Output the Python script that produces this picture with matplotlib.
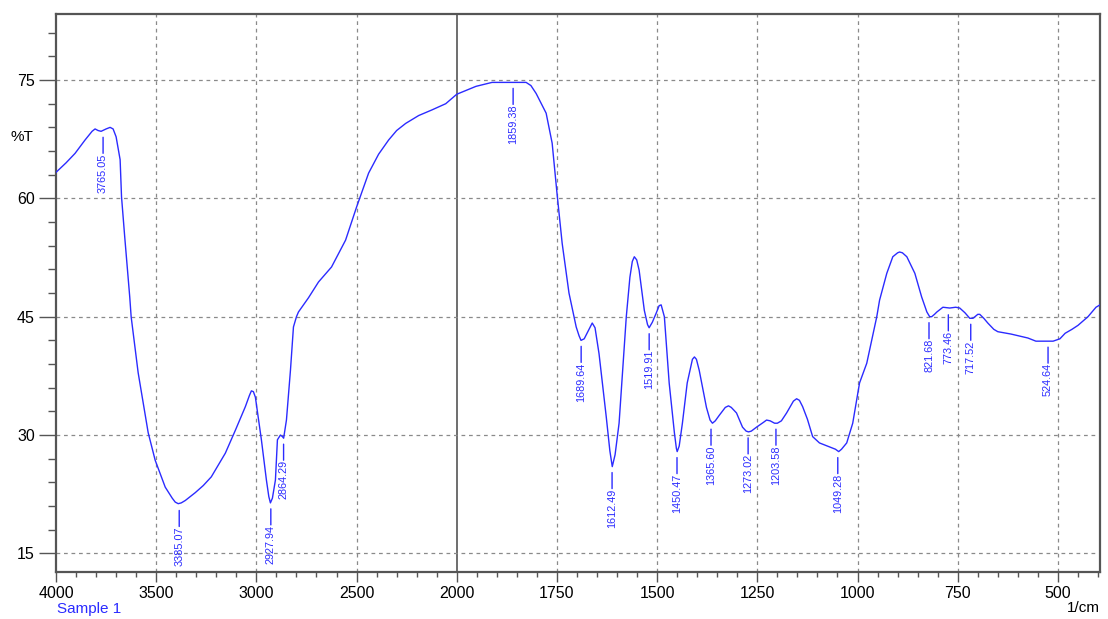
import numpy as np
import matplotlib
matplotlib.use("Agg")
import matplotlib.pyplot as plt
from matplotlib.ticker import FixedLocator, FixedFormatter

plt.rcParams['font.family'] = ['Liberation Sans', 'DejaVu Sans']

# ---- data (wavenumber 1/cm, %T) ----
wavenumber = [4000, 3950, 3905, 3855, 3820, 3805, 3790, 3775, 3750, 3730, 3715,
              3700, 3680, 3673, 3657, 3632, 3625, 3590, 3540, 3505, 3455, 3420,
              3405, 3390, 3375, 3355, 3305, 3265, 3225, 3155, 3105, 3055, 3035,
              3025, 3015, 3005, 2975, 2950, 2938, 2930, 2920, 2905, 2895, 2880,
              2870, 2864, 2850, 2830, 2815, 2800, 2790, 2740, 2690, 2625, 2555,
              2500, 2440, 2390, 2340, 2300, 2255, 2190, 2125, 2055, 2000, 1952,
              1912, 1860, 1827, 1815, 1802, 1777, 1762, 1750, 1737, 1720, 1702,
              1695, 1690, 1682, 1670, 1662, 1655, 1645, 1627, 1618, 1612, 1605,
              1595, 1577, 1568, 1562, 1557, 1551, 1545, 1532, 1524, 1520, 1512,
              1502, 1495, 1490, 1482, 1470, 1457, 1452, 1450, 1445, 1437, 1425,
              1412, 1407, 1402, 1395, 1377, 1368, 1362, 1355, 1345, 1330, 1322,
              1315, 1302, 1287, 1278, 1272, 1265, 1252, 1235, 1227, 1218, 1207,
              1200, 1190, 1177, 1160, 1152, 1145, 1137, 1125, 1112, 1095, 1070,
              1055, 1047, 1040, 1027, 1012, 995, 977, 952, 945, 927, 912, 900,
              895, 888, 877, 857, 840, 827, 820, 815, 808, 802, 787, 770, 755,
              745, 732, 720, 712, 707, 700, 695, 685, 675, 660, 650, 617, 575,
              555, 530, 512, 495, 482, 465, 450, 425, 405, 395]
transmittance = [63.3, 64.5, 65.7, 67.4, 68.5, 68.8, 68.6, 68.5, 68.8, 69.0, 68.8,
                 67.8, 64.9, 60.2, 55.1, 47.5, 45.0, 37.9, 30.3, 26.8, 23.4, 22.0,
                 21.5, 21.3, 21.4, 21.7, 22.7, 23.6, 24.7, 27.7, 30.6, 33.6, 35.0,
                 35.6, 35.5, 34.8, 29.4, 24.3, 22.2, 21.4, 22.0, 24.3, 29.4, 30.0,
                 29.8, 29.6, 31.9, 38.2, 43.7, 45.0, 45.6, 47.4, 49.4, 51.3, 54.7,
                 58.9, 63.2, 65.6, 67.4, 68.6, 69.5, 70.5, 71.2, 72.0, 73.2, 74.2,
                 74.7, 74.7, 74.7, 74.3, 73.3, 70.8, 67.0, 60.7, 54.3, 48.0, 43.7,
                 42.6, 42.0, 42.2, 43.4, 44.2, 43.6, 40.3, 32.3, 28.0, 26.0, 27.5,
                 31.5, 45.0, 50.0, 52.0, 52.6, 52.2, 50.9, 45.8, 44.0, 43.6, 44.3,
                 45.5, 46.4, 46.5, 45.0, 36.6, 30.3, 28.3, 27.9, 28.6, 31.5, 36.6,
                 39.6, 39.9, 39.6, 38.2, 33.5, 31.9, 31.5, 31.8, 32.5, 33.5, 33.7,
                 33.5, 32.8, 31.0, 30.5, 30.4, 30.5, 31.0, 31.6, 31.9, 31.8, 31.5,
                 31.5, 31.8, 32.8, 34.3, 34.6, 34.4, 33.6, 32.0, 29.8, 29.0, 28.5,
                 28.2, 27.9, 28.2, 29.0, 31.5, 36.6, 39.1, 45.0, 47.1, 50.5, 52.6,
                 53.1, 53.2, 53.1, 52.6, 50.5, 47.5, 45.6, 45.0, 45.0, 45.3, 45.6,
                 46.2, 46.1, 46.2, 46.1, 45.5, 44.8, 44.8, 45.0, 45.3, 45.3, 44.8,
                 44.2, 43.4, 43.1, 42.8, 42.3, 41.9, 41.9, 41.9, 42.2, 42.9, 43.4,
                 43.9, 45.0, 46.2, 46.5]

peak_wn = [3765.05, 3385.07, 2927.94, 2864.29, 1859.38, 1689.64, 1612.49,
           1519.91, 1450.47, 1365.60, 1273.02, 1203.58, 1049.28, 821.68,
           773.46, 717.52, 524.64]
peak_t = [68.5, 21.2, 21.4, 29.6, 74.7, 42.0, 26.0, 43.6, 27.9, 31.5, 30.4,
          31.5, 27.9, 45.0, 46.0, 44.8, 41.9]
peak_labels = ["3765.05", "3385.07", "2927.94", "2864.29", "1859.38", "1689.64",
               "1612.49", "1519.91", "1450.47", "1365.60", "1273.02", "1203.58",
               "1049.28", "821.68", "773.46", "717.52", "524.64"]

major_x = [4000, 3500, 3000, 2500, 2000, 1750, 1500, 1250, 1000, 750, 500]
y_ticks = [15, 30, 45, 60, 75]

BLUE = '#2b2bff'
DARK = '#555555'


def fwd(x):
    x = np.asarray(x, dtype=float)
    return np.where(x > 2000, 2000 + (x - 2000) / 2.0, x)


def inv(u):
    u = np.asarray(u, dtype=float)
    return np.where(u > 2000, 2000 + 2.0 * (u - 2000), u)


fig = plt.figure(figsize=(11.08, 6.19), dpi=100)
ax = fig.add_axes([56 / 1108, 1 - 572 / 619, (1100 - 56) / 1108, (572 - 14) / 619])
ax.set_xscale('function', functions=(fwd, inv))
ax.set_xlim(4000, 395)
ax.set_ylim(12.64, 83.37)

# grid
for xv in major_x:
    if xv == 2000:
        ax.axvline(xv, color=DARK, lw=1.2, zorder=1)
    elif xv != 4000:
        ax.axvline(xv, color='#8a8a8a', lw=0.9, ls=(0, (3, 3)), zorder=1)
for yv in y_ticks:
    ax.axhline(yv, color='#8a8a8a', lw=0.9, ls=(0, (3, 3)), zorder=1)

ax.plot(wavenumber, transmittance, color=BLUE, lw=1.0, zorder=3,
        solid_joinstyle='round', antialiased=True)

for wn, t, lab in zip(peak_wn, peak_t, peak_labels):
    ax.annotate(lab, xy=(wn, t), xytext=(0, -22), textcoords='offset pixels',
                rotation=90, ha='center', va='top', color=BLUE, fontsize=7.8,
                arrowprops=dict(arrowstyle='-', color=BLUE, lw=1.0, patchA=None,
                                relpos=(0.5, 1.0), shrinkA=0, shrinkB=4.3),
                zorder=4)

# ticks
ax.xaxis.set_major_locator(FixedLocator(major_x))
ax.xaxis.set_major_formatter(FixedFormatter([str(v) for v in major_x]))
minor_x = [v for v in range(3900, 2000, -100) if v % 500 != 0] + \
          [v for v in range(1950, 399, -50) if v % 250 != 0]
ax.xaxis.set_minor_locator(FixedLocator(minor_x))
ax.yaxis.set_major_locator(FixedLocator(y_ticks))
ax.yaxis.set_minor_locator(FixedLocator([18, 21, 24, 27, 33, 36, 39, 42, 48, 51, 54,
                                          57, 63, 66, 69, 72, 78, 81]))
ax.tick_params(axis='x', which='major', length=7.2, width=1, color=DARK,
               labelsize=11.5, pad=3)
ax.tick_params(axis='x', which='minor', length=3.6, width=1, color=DARK)
ax.tick_params(axis='y', which='major', length=12.2, width=1, color=DARK,
               labelsize=11.5, pad=3)
ax.tick_params(axis='y', which='minor', length=5.5, width=1, color=DARK)

for s in ax.spines.values():
    s.set_color(DARK)
    s.set_linewidth(1.6)

fig.text(22 / 1108, 1 - 137 / 619, '%T', fontsize=11, ha='center', va='center')
fig.text(57 / 1108, 1 - 609 / 619, 'Sample 1', fontsize=11, color=BLUE,
         ha='left', va='center')
fig.text(1100 / 1108, 1 - 608 / 619, '1/cm', fontsize=11, ha='right', va='center')

fig.savefig('out.png', dpi=100)
